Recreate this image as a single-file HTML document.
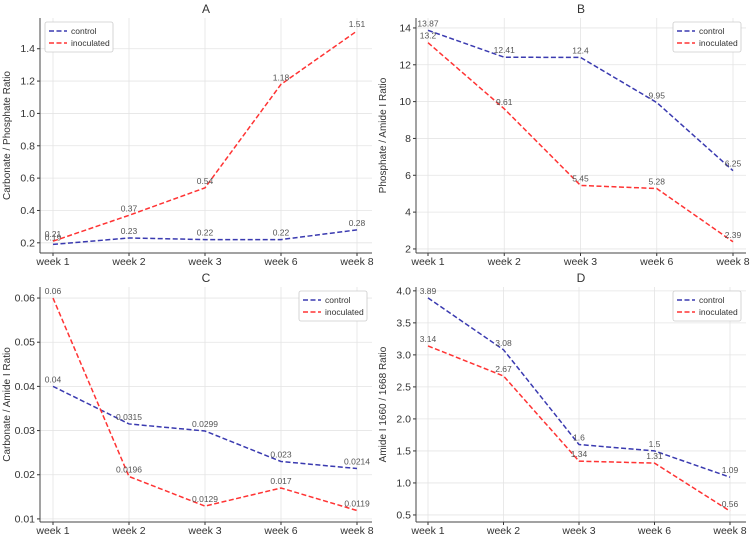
<!DOCTYPE html>
<html><head><meta charset="utf-8"><style>
html,body{margin:0;padding:0;background:#fff;}
svg{display:block;font-family:"Liberation Sans","DejaVu Sans",sans-serif;}
</style></head><body>
<svg id="chart" width="752" height="539" viewBox="0 0 752 539"></svg>
<script>
const categories = ["week 1","week 2","week 3","week 6","week 8"];
const aControl = [0.19,0.23,0.22,0.22,0.28];
const aInoc = [0.21,0.37,0.54,1.18,1.51];
const aTicks = [0.2,0.4,0.6,0.8,1.0,1.2,1.4];
const bControl = [13.87,12.41,12.4,9.95,6.25];
const bInoc = [13.2,9.61,5.45,5.28,2.39];
const bTicks = [2,4,6,8,10,12,14];
const cControl = [0.04,0.0315,0.0299,0.023,0.0214];
const cInoc = [0.06,0.0196,0.0129,0.017,0.0119];
const cTicks = [0.01,0.02,0.03,0.04,0.05,0.06];
const dControl = [3.89,3.08,1.6,1.5,1.09];
const dInoc = [3.14,2.67,1.34,1.31,0.56];
const dTicks = [0.5,1.0,1.5,2.0,2.5,3.0,3.5,4.0];

const NS="http://www.w3.org/2000/svg";
const svg=document.getElementById('chart');
function mk(tag,attrs,parent){const e=document.createElementNS(NS,tag);for(const k in attrs)e.setAttribute(k,attrs[k]);(parent||svg).appendChild(e);return e;}

const panels=[
 {id:'a',title:'A',ytitle:'Carbonate / Phosphate Ratio',c:aControl,i:aInoc,ticks:aTicks,fmt:v=>v.toFixed(1),
  L:40,R:372,T:18,B:253,x0:53,x1:357,ymin:0.137,ymax:1.59,leg:'left'},
 {id:'b',title:'B',ytitle:'Phosphate / Amide I Ratio',c:bControl,i:bInoc,ticks:bTicks,fmt:v=>String(v),
  L:416,R:746,T:18,B:253,x0:428,x1:733,ymin:1.78,ymax:14.54,leg:'right'},
 {id:'c',title:'C',ytitle:'Carbonate / Amide I Ratio',c:cControl,i:cInoc,ticks:cTicks,fmt:v=>v.toFixed(2),
  L:40,R:372,T:287,B:522,x0:53,x1:357,ymin:0.0093,ymax:0.0625,leg:'right'},
 {id:'d',title:'D',ytitle:'Amide I 1660 / 1668 Ratio',c:dControl,i:dInoc,ticks:dTicks,fmt:v=>v.toFixed(1),
  L:416,R:746,T:287,B:522,x0:428,x1:730,ymin:0.39,ymax:4.06,leg:'right'}
];

panels.forEach(p=>{
 const g=mk('g',{});
 
 
 const xs=k=>p.x0+(p.x1-p.x0)*k/(categories.length-1);
 const ys=v=>p.B-(v-p.ymin)/(p.ymax-p.ymin)*(p.B-p.T);
 categories.forEach((c,k)=>{
  const l=mk('line',{x1:xs(k),x2:xs(k),y1:p.T,y2:p.B,stroke:'#e4e4e4','stroke-width':0.8},g);
  
  
  const t=mk('text',{x:xs(k),y:p.B+12,'text-anchor':'middle','font-size':10.5,fill:'#333'},g);
  t.textContent=c;
  
  
  mk('line',{x1:xs(k),x2:xs(k),y1:p.B,y2:p.B+3,stroke:'#333'},g);
 });
 p.ticks.forEach(v=>{
  const l=mk('line',{x1:p.L,x2:p.R,y1:ys(v),y2:ys(v),stroke:'#e4e4e4','stroke-width':0.8},g);
  
  
  const t=mk('text',{x:p.L-5,y:ys(v)+3.5,'text-anchor':'end','font-size':10.5,fill:'#333'},g);
  t.textContent=p.fmt(v);
  
  
  mk('line',{x1:p.L-3,x2:p.L,y1:ys(v),y2:ys(v),stroke:'#333'},g);
 });
 mk('line',{x1:p.L,x2:p.L,y1:p.T,y2:p.B,stroke:'#444','stroke-width':1},g);
 mk('line',{x1:p.L,x2:p.R,y1:p.B,y2:p.B,stroke:'#444','stroke-width':1},g);
 const tt=mk('text',{x:(p.L+p.R)/2,y:p.T-5,'text-anchor':'middle','font-size':12,fill:'#333'},g);
 tt.textContent=p.title;
 
 
 const cx=p.L-30, cy=(p.T+p.B)/2;
 const yt=mk('text',{x:cx,y:cy,'text-anchor':'middle','font-size':10,fill:'#333',transform:`rotate(-90 ${cx} ${cy})`},g);
 yt.textContent=p.ytitle;
 
 
 [[p.c,'#3a3ab0','control'],[p.i,'#ff3333','inoculated']].forEach(([vals,col,nm])=>{
  const pts=vals.map((v,k)=>xs(k)+','+ys(v)).join(' ');
  const pl=mk('polyline',{points:pts,fill:'none',stroke:col,'stroke-width':1.5,'stroke-dasharray':'5,2.5'},g);
  
  
  vals.forEach((v,k)=>{
   const t=mk('text',{x:xs(k),y:ys(v)-4,'text-anchor':'middle','font-size':8.5,fill:'#555'},g);
   t.textContent=String(v);
   
   
  });
 });
 const lw=68, lh=30;
 const lx=p.leg==='left'?p.L+5:p.R-lw-5, ly=p.T+4;
 const lg=mk('g',{},g);
 
 
 mk('rect',{x:lx,y:ly,width:lw,height:lh,fill:'#fff',stroke:'#ccc','stroke-width':0.8,rx:2},lg);
 [['control','#3a3ab0'],['inoculated','#ff3333']].forEach(([nm,col],j)=>{
  const yy=ly+9+j*12;
  const e=mk('g',{},lg);
  
  
  mk('line',{x1:lx+4,x2:lx+22,y1:yy,y2:yy,stroke:col,'stroke-width':1.5,'stroke-dasharray':'5,2.5'},e);
  const t=mk('text',{x:lx+26,y:yy+3,'font-size':8.5,fill:'#333'},e);
  t.textContent=nm;
 });
});
</script>
</body></html>
